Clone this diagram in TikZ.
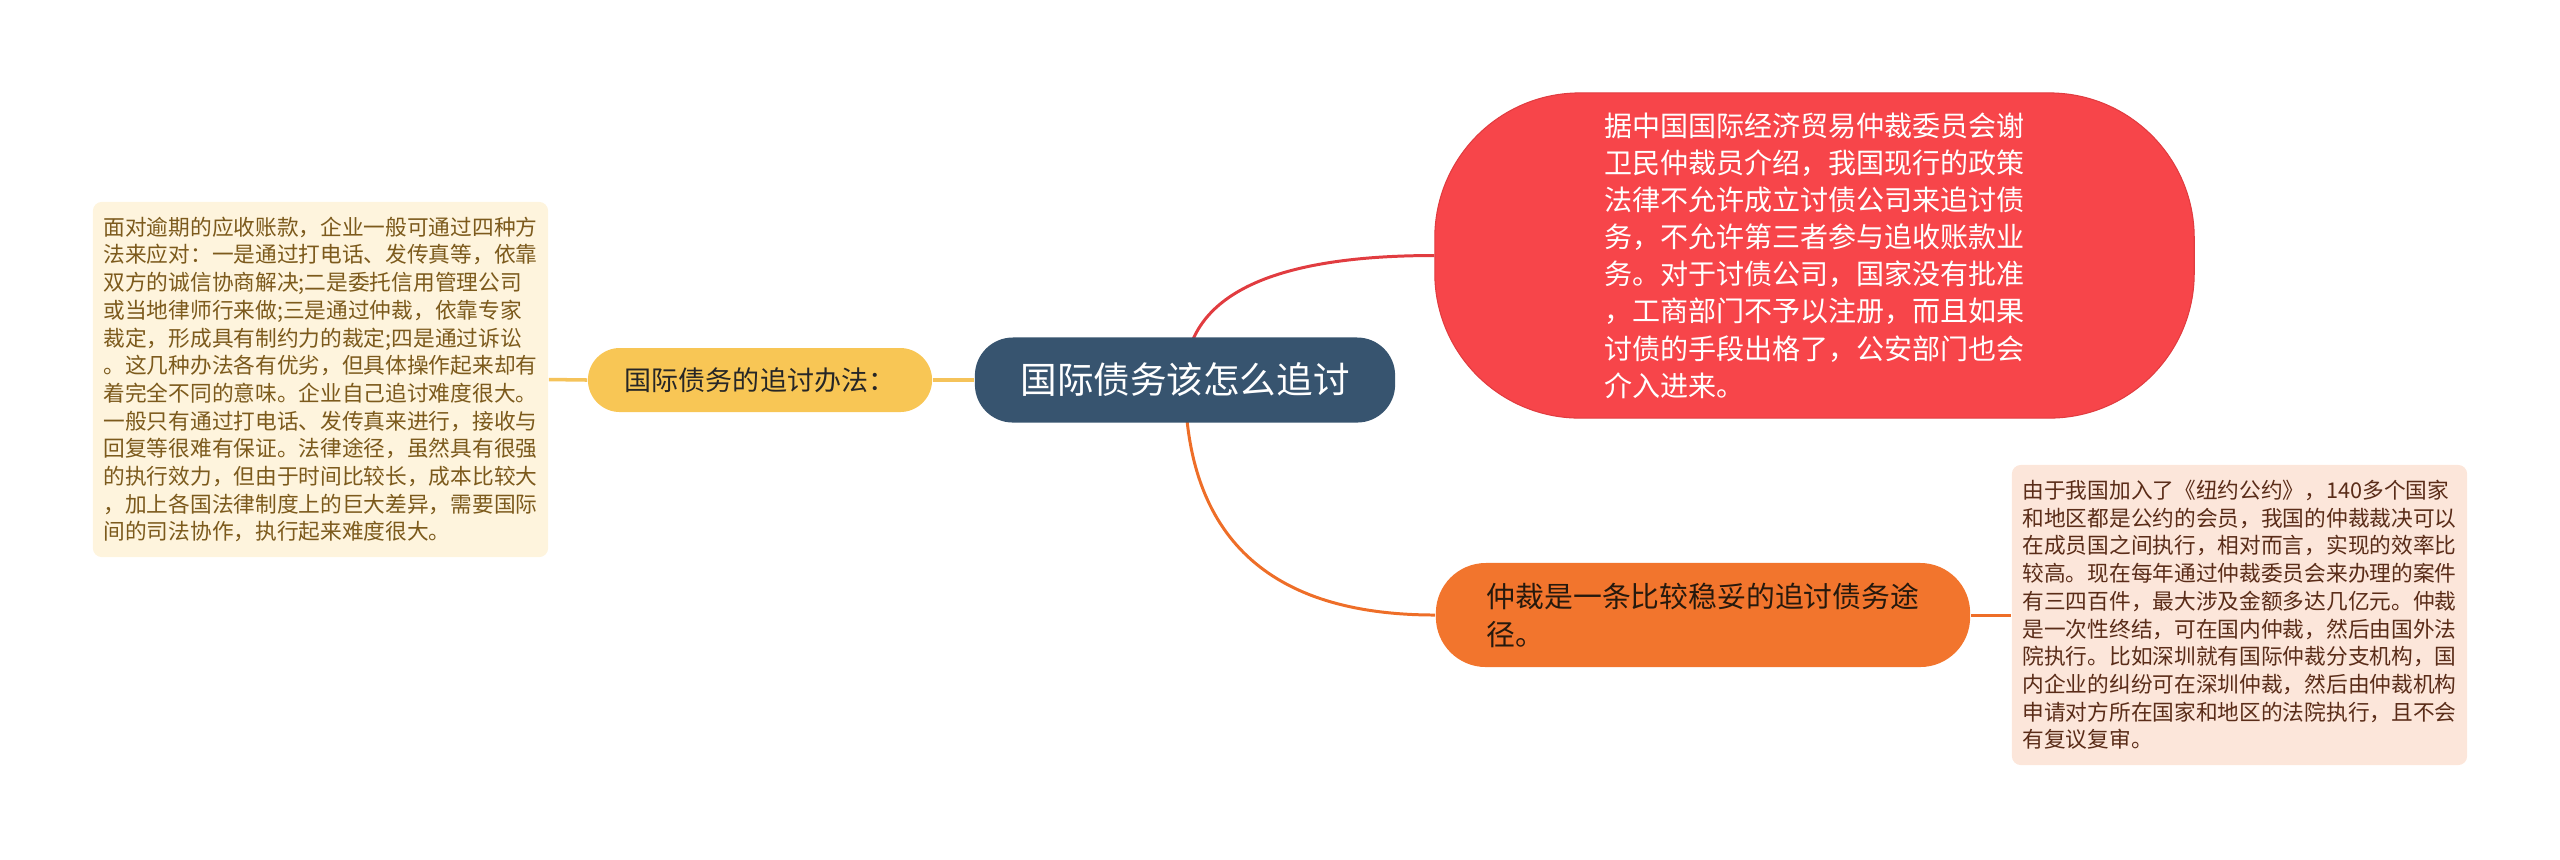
\documentclass[tikz,border=0pt]{standalone}
\usepackage{fontspec}
\setmainfont{Noto Sans CJK SC}
\usetikzlibrary{calc,backgrounds}
\definecolor{rootblue}{HTML}{37546F}
\definecolor{redfill}{HTML}{F7454A}
\definecolor{redline}{HTML}{E13C40}
\definecolor{orangefill}{HTML}{F2752D}
\definecolor{orangeline}{HTML}{EE6E28}
\definecolor{yellowfill}{HTML}{F8C655}
\definecolor{yellowline}{HTML}{F5C35A}
\definecolor{creamfill}{HTML}{FEF4DD}
\definecolor{creamtext}{HTML}{7C5A1C}
\definecolor{peachfill}{HTML}{FCE6DA}
\definecolor{peachtext}{HTML}{5A2C18}
\begin{document}
\begin{tikzpicture}[x=0.01cm, y=-0.01cm, every node/.style={inner sep=0pt, align=left},
  rootnode/.style={fill=rootblue,text=white,rounded corners=0.38cm,minimum width=4.2cm,minimum height=0.85cm,font=\fontsize{10.4pt}{12pt}\selectfont},
  topic/.style={rounded corners=#1},
  notebox/.style={rounded corners=0.09cm,minimum width=4.55cm,font=\fontsize{6.17pt}{7.88pt}\selectfont},
  link/.style={line width=0.85pt}]
  \useasboundingbox (0,0) rectangle (2560,859);
  \node[rootnode] (root) at (1185,380) {国际债务该怎么追讨};
  \node[topic=0.32cm,fill=yellowfill,text=black!85,minimum width=3.44cm,minimum height=0.64cm,
    font=\fontsize{7.68pt}{9pt}\selectfont] (methods) at (760,380) {国际债务的追讨办法：};
  \node[notebox,fill=creamfill,text=creamtext,minimum height=3.55cm] (methodsnote) at (320.5,379.5)
    {面对逾期的应收账款，企业一般可通过四种方\\法来应对：一是通过打电话、发传真等，依靠\\双方的诚信协商解决;二是委托信用管理公司\\或当地律师行来做;三是通过仲裁，依靠专家\\裁定，形成具有制约力的裁定;四是通过诉讼\\。这几种办法各有优劣，但具体操作起来却有\\着完全不同的意味。企业自己追讨难度很大。\\一般只有通过打电话、发传真来进行，接收与\\回复等很难有保证。法律途径，虽然具有很强\\的执行效力，但由于时间比较长，成本比较大\\，加上各国法律制度上的巨大差异，需要国际\\间的司法协作，执行起来难度很大。};
  \node[topic=1.45cm,fill=redfill,draw=redline,line width=0.3pt,text=white,minimum width=7.59cm,minimum height=3.25cm,
    font=\fontsize{7.97pt}{10.56pt}\selectfont] (policy) at (1814.5,255.5)
    {据中国国际经济贸易仲裁委员会谢\\卫民仲裁员介绍，我国现行的政策\\法律不允许成立讨债公司来追讨债\\务，不允许第三者参与追收账款业\\务。对于讨债公司，国家没有批准\\，工商部门不予以注册，而且如果\\讨债的手段出格了，公安部门也会\\介入进来。};
  \node[topic=0.5cm,fill=orangefill,text=black!80!brown,minimum width=5.34cm,minimum height=1.04cm,
    font=\fontsize{8.2pt}{10.8pt}\selectfont] (arbitration) at (1703,615)
    {仲裁是一条比较稳妥的追讨债务途\\径。};
  \node[notebox,fill=peachfill,text=peachtext,minimum height=3.0cm] (arbitrationnote) at (2239.5,615)
    {由于我国加入了《纽约公约》，140多个国家\\和地区都是公约的会员，我国的仲裁裁决可以\\在成员国之间执行，相对而言，实现的效率比\\较高。现在每年通过仲裁委员会来办理的案件\\有三四百件，最大涉及金额多达几亿元。仲裁\\是一次性终结，可在国内仲裁，然后由国外法\\院执行。比如深圳就有国际仲裁分支机构，国\\内企业的纠纷可在深圳仲裁，然后由仲裁机构\\申请对方所在国家和地区的法院执行，且不会\\有复议复审。};
  % branches behind the nodes
  \begin{pgfonlayer}{background}
    \draw[link,redline] (root.center) .. controls ($(root.center)!0.667!(root.center |- policy.west)$)
      and ($(policy.west)!0.667!(root.center |- policy.west)$) .. (policy.west);
    \draw[link,orangeline] (root.center) .. controls ($(root.center)!0.667!(root.center |- arbitration.west)$)
      and ($(arbitration.west)!0.667!(root.center |- arbitration.west)$) .. (arbitration.west);
  \end{pgfonlayer}
  \draw[link,yellowline,line width=1pt] (root.west) -- (methods.east);
  \draw[link,yellowline,line width=1pt] (methods.west) -- (methodsnote.east);
  \draw[link,orangeline] (arbitration.east) -- (arbitrationnote.west);
\end{tikzpicture}
\end{document}
